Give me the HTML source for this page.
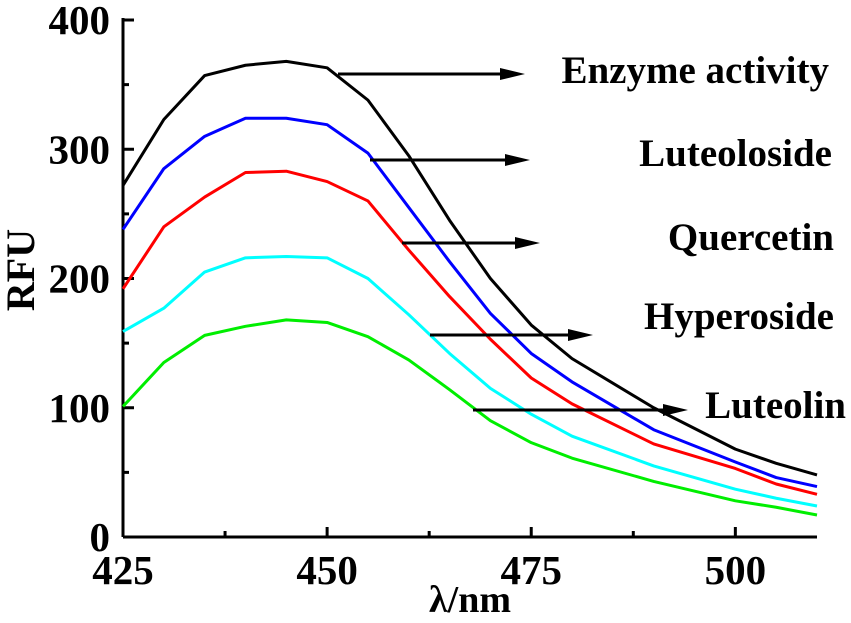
<!DOCTYPE html>
<html><head><meta charset="utf-8"><style>
body{margin:0;background:#fff}
svg text{font-family:"Liberation Serif",serif;font-weight:bold;fill:#000}
</style></head><body>
<svg id="chart" width="851" height="618" viewBox="0 0 851 618" xmlns="http://www.w3.org/2000/svg"></svg>
<script>
const wavelengths=[425,430,435,440,445,450,455,460,465,470,475,480,490,500,505,510];
const enzymeActivity=[272,323,357,365,368,363,338,295,245,200,164,138,100,68,57,48];
const luteoloside=[238,285,310,324,324,319,297,255,213,173,142,120,83,58,46,39];
const quercetin=[192,240,263,282,283,275,260,222,186,153,123,103,72,53,41,33];
const hyperoside=[159,177,205,216,217,216,200,172,142,115,95,78,55,37,30,24];
const luteolin=[101,135,156,163,168,166,155,137,114,90,73,61,43,28,23,17];
const xTicks=[425,450,475,500];
const yTicks=[0,100,200,300,400];
const labels=["Enzyme activity","Luteoloside","Quercetin","Hyperoside","Luteolin"];
const svg=document.getElementById('chart');
const NS="http://www.w3.org/2000/svg";
const X=v=>123+(v-425)*(694/85);
const Y=v=>537-v*(517/400);
function mk(t,a,p){const e=document.createElementNS(NS,t);for(const k in a)e.setAttribute(k,a[k]);(p||svg).appendChild(e);return e;}
let ax=mk('line',{x1:123,y1:537,x2:817,y2:537,stroke:'#000','stroke-width':3});


let ay=mk('line',{x1:123,y1:537,x2:123,y2:18,stroke:'#000','stroke-width':3});


for(let v=425;v<=510;v+=12.5){const big=(v-425)%25===0;mk('line',{x1:X(v),y1:537,x2:X(v),y2:big?527:531,stroke:'#000','stroke-width':3});}
for(let v=0;v<=400;v+=50){const big=v%100===0;mk('line',{x1:123,y1:Y(v),x2:big?134:129,y2:Y(v),stroke:'#000','stroke-width':3});}
xTicks.forEach(v=>{const t=mk('text',{x:X(v),y:584,'text-anchor':'middle','font-size':41});t.textContent=v;

});
yTicks.forEach(v=>{const t=mk('text',{x:110,y:Y(v)+14,'text-anchor':'end','font-size':41});t.textContent=v;

});
let xt=mk('text',{x:470,y:612,'text-anchor':'middle','font-size':38});xt.textContent='λ/nm';


let yt=mk('text',{x:0,y:0,'text-anchor':'middle','font-size':40,transform:'translate(34,270) rotate(-90)'});yt.textContent='RFU';


const series=[[enzymeActivity,'#000','enzyme-activity-line'],[luteoloside,'#0000ff','luteoloside-line'],[quercetin,'#ff0000','quercetin-line'],[hyperoside,'#00ffff','hyperoside-line'],[luteolin,'#00ee00','luteolin-line']];
series.slice().reverse().forEach(([d,c,n])=>{const p=mk('polyline',{points:d.map((v,i)=>X(wavelengths[i])+','+Y(v)).join(' '),fill:'none',stroke:c,'stroke-width':3,'stroke-linejoin':'round'});

});
const arrows=[[338,525,74,829,70],[370,530,160,832,153],[402,540,243,834,237],[430,593,335,834,316],[473,688,410,846,405]];
arrows.forEach((a,i)=>{const g=mk('g',{});


mk('line',{x1:a[0],y1:a[2],x2:a[1]-20,y2:a[2],stroke:'#000','stroke-width':3},g);
mk('polygon',{points:`${a[1]-25},${a[2]-6} ${a[1]},${a[2]} ${a[1]-25},${a[2]+6}`,fill:'#000'},g);
const t=mk('text',{x:a[3],y:a[4]+13,'text-anchor':'end','font-size':39},g);t.textContent=labels[i];

});
</script>
</body></html>
